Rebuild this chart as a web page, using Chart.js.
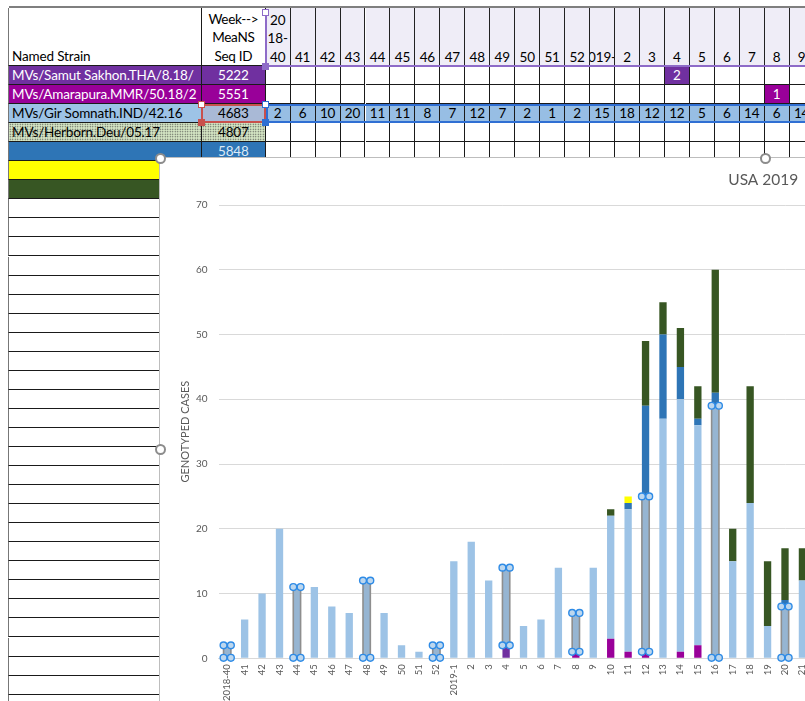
<!DOCTYPE html>
<html>
<head>
<meta charset="utf-8">
<script src="https://cdn.jsdelivr.net/npm/chart.js@4.4.1/dist/chart.umd.min.js"></script>
<style>
  html,body{margin:0;padding:0;background:#fff;}
  body{width:805px;height:701px;overflow:hidden;position:relative;font-family:Lato,"Open Sans",sans-serif;}
  .c{position:absolute;box-sizing:border-box;border-right:1px solid #1a1a1a;border-bottom:1px solid #1a1a1a;font-size:13.5px;line-height:18px;white-space:nowrap;overflow:hidden;color:#000;letter-spacing:-0.15px;}
  #chartBox{position:absolute;left:160px;top:158px;width:1210px;height:582px;background:#fff;outline:1px solid #BDBDBD;z-index:5;}
  .handle{position:absolute;width:11px;height:11px;border-radius:50%;border:2px solid #8C8C8C;background:#fff;box-sizing:border-box;z-index:10;}
  .sq{position:absolute;width:7px;height:7px;box-sizing:border-box;z-index:4;}
</style>
</head>
<body>
<div id="sheet"></div>
<div id="chartBox"><canvas id="chart" width="1210" height="582"></canvas></div>
<div class="handle" style="left:155px;top:153px"></div>
<div class="handle" style="left:760px;top:153px"></div>
<div class="handle" style="left:155px;top:444px"></div>
<script>
// ---------- data ----------
const weeks = ['2018-40','41','42','43','44','45','46','47','48','49','50','51','52',
  '2019-1','2','3','4','5','6','7','8','9','10','11','12','13','14','15','16','17','18','19','20','21',
  '22','23','24','25','26','27','28','29','30','31','32','33','34','35','36','37','38','39','40','41','42','43','44','45','46','47','48','49','50','51','52'];

const strainNames = ['MVs/Samut Sakhon.THA/8.18/', 'MVs/Amarapura.MMR/50.18/2', 'MVs/Gir Somnath.IND/42.16', 'MVs/Herborn.Deu/05.17', '', '', ''];
const seqIds = ['5222', '5551', '4683', '4807', '5848', '', ''];

// weekly genotyped cases per strain (weeks 2018-40 .. 2019-21)
const samutSakhon = [null,null,null,null,null,null,null,null,null,null,null,null,null,
  null,null,null,2,null,null,null,null,null,null,null,null,null,null,null,null,null,null,null,null,null];
const amarapura = [null,null,null,null,null,null,null,null,null,null,null,null,null,
  null,null,null,null,null,null,null,1,null,3,1,1,null,1,2,null,null,null,null,null,null];
const girSomnath = [2,6,10,20,11,11,8,7,12,7,2,1,2,
  15,18,12,12,5,6,14,6,14,19,22,24,37,39,34,39,15,24,5,8,12];
const herborn = [null,null,null,null,null,null,null,null,null,null,null,null,null,
  null,null,null,null,null,null,null,null,null,null,null,null,null,null,null,null,null,null,null,null,null];
const seq5848 = [null,null,null,null,null,null,null,null,null,null,null,null,null,
  null,null,null,null,null,null,null,null,null,null,1,14,13,5,1,2,null,null,null,1,null];
const yellowSeries = [null,null,null,null,null,null,null,null,null,null,null,null,null,
  null,null,null,null,null,null,null,null,null,null,1,null,null,null,null,null,null,null,null,null,null];
const darkGreenSeries = [null,null,null,null,null,null,null,null,null,null,null,null,null,
  null,null,null,null,null,null,null,null,null,1,null,10,5,6,5,19,5,18,10,8,5];

const rowColors = ['#7030A0', '#990099', '#9DC3E6', '#D5E6C4', '#2E75B6', '#FFFF00', '#375623'];
const series = [samutSakhon, amarapura, girSomnath, herborn, seq5848, yellowSeries, darkGreenSeries];

// ---------- sheet ----------
const sheet = document.getElementById('sheet');
const xA = 9, xB = 202, xW = 265.7, wW = 24.95, yH = 8, yR = 66, rH = 19.05;
function cell(cls, x, y, w, h, html, style) {
  const d = document.createElement('div');
  d.className = cls;
  d.style.left = x + 'px'; d.style.top = y + 'px';
  d.style.width = w + 'px'; d.style.height = h + 'px';
  if (style) d.style.cssText += style;
  d.innerHTML = html;
  sheet.appendChild(d);
  return d;
}
// top frame line
cell('c', xA, 6, 805 - xA, 2, '', 'border:none;background:#7F7F7F;');
// header
cell('c', xA - 1, yH, xB - xA + 1, yR - yH, '<div style="position:absolute;left:3px;bottom:0px;">Named Strain</div>', 'border-left:1px solid #777;');
cell('c', xB, yH, xW - xB, yR - yH, '<div style="position:absolute;left:-6px;right:-6px;bottom:0;text-align:center;line-height:18.5px;letter-spacing:-0.3px">Week--&gt;<br>MeaNS<br>Seq ID</div>', '');
for (let i = 0; i < 24; i++) {
  const lab = weeks[i];
  let html;
  if (i === 0) html = lab.slice(0, 2) + '<br>' + lab.slice(2, 5) + '<br>' + lab.slice(5);
  else html = lab;
  cell('c', xW + i * wW, yH, wW, yR - yH,
    '<div style="position:absolute;left:-20px;right:-20px;bottom:0;text-align:center;line-height:18.5px">' + html + '</div>',
    'background:#EFEDF7;border-right:1px solid #222;border-bottom:none;');
}
// data rows
const nRows = 35;
for (let r = 0; r < nRows; r++) {
  const y = yR + r * rH;
  const bg = r < rowColors.length ? rowColors[r] : '#fff';
  const txt = (r === 0 || r === 1) ? '#fff' : '#000';
  let styleA = 'background:' + bg + ';color:' + txt + ';border-left:1px solid #777;';
  let styleB = 'background:' + bg + ';color:' + (r === 4 ? '#DDEBF7' : txt) + ';text-align:center;';
  if (r === 2) styleB = 'background:#A9B9D6;text-align:center;';
  if (r === 3) {
    const pat = 'background-color:#D5E6C4;background-image:radial-gradient(circle,#4a4a4a 0.55px,transparent 0.9px);background-size:2.5px 2.5px;';
    styleA += pat; styleB += pat;
  }
  cell('c', xA - 1, y, xB - xA + 1, rH, '<span style="padding-left:3px">' + (strainNames[r] || '') + '</span>', styleA);
  cell('c', xB, y, xW - xB, rH, seqIds[r] || '', styleB);
  if (r < 5) {
    for (let i = 0; i < 24; i++) {
      const v = series[r][i];
      let st = 'text-align:center;';
      if (r === 2) st += 'background:#97BEE4;';
      if (v != null && r !== 2) st += 'background:' + rowColors[r] + ';color:#fff;';
      cell('c', xW + i * wW, y, wW, rH, v == null ? '' : String(v), st);
    }
  }
}
// selection decorations
cell('c', xW - 1, yH + 1, 2, yR - yH - 1, '', 'border:none;background:#8E6BC8;z-index:3;');
cell('c', xW, yR - 1, 805 - xW, 2, '', 'border:none;background:#8E6BC8;z-index:3;');
cell('sq', xW - 3.5, yH + 0.5, 7, 7, '', 'background:#fff;border:1.5px solid #8E6BC8;');
cell('sq', xW - 3.5, yR - 3, 7, 7, '', 'background:#8E6BC8;border:1.5px solid #8E6BC8;');
const r3 = yR + 2 * rH;
cell('c', xB - 1, r3, xW - xB + 1, rH, '', 'border:2px solid #C9504C;background:transparent;z-index:3;');
cell('c', xW, r3, 805 - xW, rH, '', 'border:2px solid #2F6FD3;border-right:none;background:transparent;z-index:3;');
cell('sq', xB - 4.5, r3 - 3, 7, 7, '', 'background:#fff;border:1.5px solid #C9504C;');
cell('sq', xB - 4.5, r3 + rH - 4, 7, 7, '', 'background:#C9504C;border:1.5px solid #C9504C;');
cell('sq', xW - 3.5, r3 - 3, 7, 7, '', 'background:#fff;border:1.5px solid #2F6FD3;');
cell('sq', xW - 3.5, r3 + rH - 4, 7, 7, '', 'background:#2F6FD3;border:1.5px solid #2F6FD3;');

// ---------- chart ----------
function pad(a) { const out = a.slice(); while (out.length < weeks.length) out.push(null); return out; }
const dsDefs = [
  {label: '5222', data: samutSakhon, color: '#7030A0'},
  {label: '5551', data: amarapura, color: '#990099'},
  {label: '4683', data: girSomnath, color: '#9DC3E6'},
  {label: '4807', data: herborn, color: '#C5DFB3'},
  {label: '5848', data: seq5848, color: '#2E75B6'},
  {label: 'Yellow', data: yellowSeries, color: '#FFFF00'},
  {label: 'Dark green', data: darkGreenSeries, color: '#375623'}
];

const selPlugin = {
  id: 'selHandles',
  afterDatasetsDraw(chart) {
    const idx = 2;
    const meta = chart.getDatasetMeta(idx);
    const data = chart.data.datasets[idx].data;
    const ctx = chart.ctx;
    meta.data.forEach((el, i) => {
      if (i % 4 !== 0 || data[i] == null) return;
      const p = el.getProps(['x', 'y', 'base', 'width'], true);
      const l = p.x - p.width / 2, r = p.x + p.width / 2;
      ctx.save();
      ctx.fillStyle = 'rgba(120,120,120,0.18)';
      ctx.fillRect(l, p.y, p.width, p.base - p.y);
      ctx.strokeStyle = '#8E8E8E';
      ctx.lineWidth = 1.6;
      ctx.strokeRect(l, p.y, p.width, p.base - p.y);
      [[l, p.y], [r, p.y], [l, p.base], [r, p.base]].forEach(([cx, cy]) => {
        ctx.beginPath();
        ctx.arc(cx, cy, 3.4, 0, Math.PI * 2);
        ctx.fillStyle = '#BDD7EE';
        ctx.fill();
        ctx.lineWidth = 1.4;
        ctx.strokeStyle = '#2E8BE6';
        ctx.stroke();
      });
      ctx.restore();
    });
  }
};

new Chart(document.getElementById('chart'), {
  type: 'bar',
  data: {
    labels: weeks,
    datasets: dsDefs.map(d => ({
      label: d.label, data: pad(d.data), backgroundColor: d.color,
      borderWidth: 0, barPercentage: 0.42, categoryPercentage: 1
    }))
  },
  options: {
    responsive: false, animation: false, devicePixelRatio: 1,
    layout: {padding: {left: 15, right: 18.5, top: 0, bottom: 0}},
    plugins: {
      legend: {display: false},
      tooltip: {enabled: false},
      title: {display: true, text: 'USA 2019', color: '#595959',
        font: {family: 'Lato', size: 15.5, weight: 'normal'}, padding: {top: 12.7, bottom: 15.7}}
    },
    scales: {
      x: {
        stacked: true,
        grid: {display: false, drawTicks: false},
        border: {color: '#D9D9D9'},
        ticks: {autoSkip: false, maxRotation: 90, minRotation: 90, color: '#595959',
          font: {family: 'Lato', size: 9.5}, padding: 6},
        afterFit: s => { s.height = 81.7; }
      },
      y: {
        stacked: true, min: 0, max: 70,
        ticks: {stepSize: 10, color: '#595959', font: {family: 'Lato', size: 10}, padding: 11},
        grid: {color: '#D9D9D9', drawTicks: false},
        border: {display: false},
        title: {display: true, text: 'GENOTYPED CASES', color: '#595959',
          font: {family: 'Lato', size: 11}, padding: {top: 3.5, bottom: 0}},
        afterFit: s => { s.width = 43.5; }
      }
    }
  },
  plugins: [selPlugin]
});
</script>
</body>
</html>
